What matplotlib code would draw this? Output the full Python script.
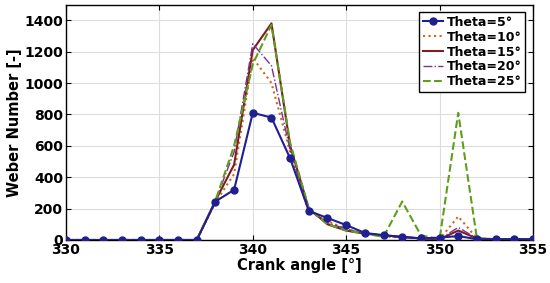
import matplotlib
matplotlib.use("Agg")
import matplotlib.pyplot as plt

crank = list(range(330, 356))

theta5 = [0, 0, 0, 0, 0, 0, 0, 0, 245, 320, 810, 780, 520, 185, 140, 95, 45, 30, 20, 10, 15, 25, 5, 5, 5, 5]
theta10 = [0, 0, 0, 0, 0, 0, 0, 0, 240, 420, 1160, 1000, 560, 180, 120, 70, 40, 25, 15, 10, 5, 150, 10, 5, 5, 5]
theta15 = [0, 0, 0, 0, 0, 0, 0, 0, 250, 480, 1210, 1380, 600, 200, 100, 60, 40, 30, 20, 10, 5, 60, 10, 5, 5, 5]
theta20 = [0, 0, 0, 0, 0, 0, 0, 0, 250, 560, 1250, 1110, 570, 190, 110, 70, 40, 25, 15, 10, 5, 80, 10, 5, 5, 5]
theta25 = [0, 0, 0, 0, 0, 0, 0, 0, 250, 600, 1120, 1370, 620, 200, 100, 60, 40, 20, 245, 30, 5, 810, 10, 5, 5, 5]

plt.rcParams['font.family'] = 'DejaVu Sans'
plt.rcParams['font.weight'] = 'bold'

fig = plt.figure(figsize=(5.5, 2.83), dpi=100)
ax = fig.add_axes([0.12, 0.152, 0.849, 0.832])

ax.plot(crank, theta5, '-o', color='#1f1f8f', lw=1.5, ms=5, label='Theta=5°', zorder=3)
ax.plot(crank, theta10, ':', color='#c86a1a', lw=1.5, label='Theta=10°')
ax.plot(crank, theta15, '-', color='#7a1f1f', lw=1.5, label='Theta=15°')
ax.plot(crank, theta20, '-.', color='#7e2f8e', lw=1.0, label='Theta=20°')
ax.plot(crank, theta25, '--', color='#5e9e1e', lw=1.5, label='Theta=25°')

ax.set_xlim(330, 355)
ax.set_ylim(0, 1500)
ax.set_xticks(range(330, 356, 5))
ax.set_yticks(range(0, 1401, 200))
ax.grid(True, color='#dddddd', lw=0.8)
ax.set_axisbelow(True)
ax.tick_params(direction='in', top=True, right=True, labelsize=10, pad=2)
for lbl in ax.get_xticklabels() + ax.get_yticklabels():
    lbl.set_fontweight('bold')
for s in ax.spines.values():
    s.set_linewidth(1.0)

ax.set_xlabel('Crank angle [°]', fontsize=10.5, fontweight='bold', labelpad=1)
ax.set_ylabel('Weber Number [-]', fontsize=10.5, fontweight='bold', labelpad=2)

leg = ax.legend(loc='upper right', prop={'weight': 'bold', 'size': 9},
                handlelength=1.6, handletextpad=0.3, labelspacing=0.15,
                borderpad=0.3, fancybox=False, framealpha=1, edgecolor='black',
                borderaxespad=0.6)
leg.get_frame().set_linewidth(1.0)

fig.savefig('out.png', dpi=100)
